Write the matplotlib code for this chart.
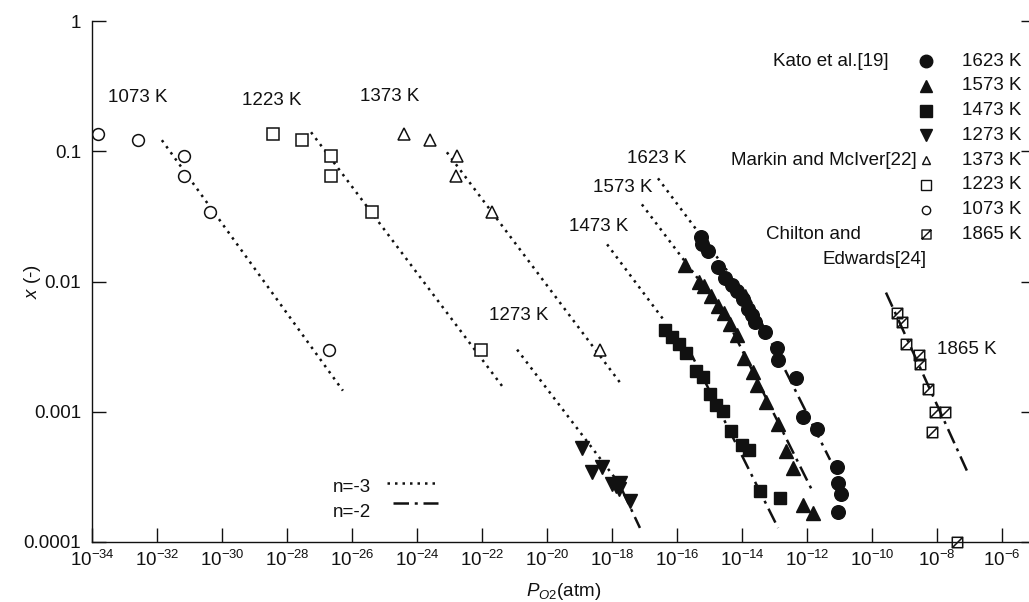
import numpy as np
import matplotlib
matplotlib.use("Agg")
import matplotlib.pyplot as plt
from matplotlib.path import Path

plt.rcParams['font.family'] = ['Liberation Sans', 'DejaVu Sans']
plt.rcParams['mathtext.fontset'] = 'custom'
plt.rcParams['mathtext.rm'] = 'Liberation Sans'
plt.rcParams['mathtext.it'] = 'Liberation Sans:italic'
plt.rcParams['axes.unicode_minus'] = False

# ---- data: log10(P_O2 / atm) and x ----
# Kato et al. [19]
kato_1623_logp = [-15.26, -15.23, -15.05, -14.74, -14.52, -14.31, -14.15, -13.97, -13.82,
                  -13.69, -13.60, -13.29, -12.92, -12.89, -12.34, -12.12, -11.69, -11.08,
                  -11.05, -10.95, -11.05]
kato_1623_x = [0.0218, 0.0193, 0.0170, 0.0130, 0.0107, 0.00948, 0.00838, 0.00728, 0.00619,
               0.00557, 0.00492, 0.00412, 0.00310, 0.00251, 0.00183, 0.000916, 0.00074,
               0.000378, 0.000284, 0.000234, 0.00017]

kato_1573_logp = [-15.75, -15.32, -15.17, -14.95, -14.74, -14.55, -14.37, -14.15, -13.94,
                  -13.66, -13.54, -13.26, -12.89, -12.65, -12.43, -12.12, -11.82]
kato_1573_x = [0.0135, 0.0100, 0.00916, 0.0078, 0.00653, 0.00578, 0.00475, 0.00385, 0.0026,
               0.00203, 0.00161, 0.00119, 0.00081, 0.0005, 0.00037, 0.000193, 0.000167]

kato_1473_logp = [-16.37, -16.15, -15.94, -15.72, -15.42, -15.20, -14.98, -14.80, -14.58,
                  -14.34, -14.00, -13.78, -13.45, -12.83]
kato_1473_x = [0.00428, 0.00378, 0.00333, 0.00284, 0.00206, 0.00186, 0.00137, 0.00113,
               0.00102, 0.000714, 0.000557, 0.00051, 0.000247, 0.000218]

kato_1273_logp = [-18.92, -18.62, -18.31, -18.00, -17.88, -17.75, -17.78, -17.45]
kato_1273_x = [0.000528, 0.000345, 0.000378, 0.000279, 0.00027, 0.000285, 0.000256, 0.000207]

# Markin and McIver [22]
markin_x = [0.135, 0.122, 0.092, 0.064, 0.034, 0.003]
markin_1373_logp = [-24.40, -23.60, -22.77, -22.80, -21.69, -18.37]
markin_1223_logp = [-28.43, -27.54, -26.65, -26.65, -25.38, -22.03]
markin_1073_logp = [-33.82, -32.58, -31.17, -31.17, -30.37, -26.71]

# Chilton and Edwards [24]
chilton_1865_logp = [-9.23, -9.08, -8.95, -8.55, -8.52, -8.28, -8.06, -7.75, -8.15, -7.38]
chilton_1865_x = [0.00578, 0.0049, 0.00333, 0.00274, 0.00234, 0.0015, 0.001, 0.001,
                  0.0007, 0.0001]

# fitted lines (logP start, log x start, logP end, log x end)
n3_lines = [(-31.85, -0.915, -26.28, -2.838),   # 1073 K
            (-27.26, -0.854, -21.32, -2.823),   # 1223 K
            (-23.08, -1.008, -17.75, -2.777),   # 1373 K
            (-20.92, -2.523, -17.91, -3.508),   # 1273 K
            (-18.15, -1.715, -16.37, -2.308),   # 1473 K
            (-17.08, -1.408, -15.29, -2.000),   # 1573 K
            (-16.585, -1.208, -14.37, -1.946)]  # 1623 K
n2_lines = [(-17.69, -3.600, -17.14, -3.892),   # 1273 K
            (-15.66, -2.508, -12.89, -3.892),   # 1473 K
            (-14.68, -2.185, -11.85, -3.600),   # 1573 K
            (-13.91, -2.062, -11.29, -3.369),   # 1623 K
            (-9.57, -2.085, -7.05, -3.469)]     # 1865 K

# temperature annotations near each data set
temp_labels = ['1073 K', '1223 K', '1373 K', '1623 K', '1573 K', '1473 K', '1273 K', '1865 K']
temp_label_logp = [-32.58, -28.46, -24.83, -16.62, -17.66, -18.40, -20.86, -7.08]
temp_label_x = [0.26, 0.247, 0.265, 0.0883, 0.0528, 0.0265, 0.00547, 0.003]

xtick_exp = list(range(-34, -5, 2))
ytick_vals = [1e-4, 1e-3, 1e-2, 1e-1, 1]
ytick_labels = ['0.0001', '0.001', '0.01', '0.1', '1']

# square with a diagonal, used for the 1865 K points
hatch_sq = Path([(-1, -1), (1, -1), (1, 1), (-1, 1), (-1, -1), (-1, -1), (1, 1)],
                [Path.MOVETO, Path.LINETO, Path.LINETO, Path.LINETO, Path.CLOSEPOLY,
                 Path.MOVETO, Path.LINETO])

INK = '#111111'
DOT = (0, (1.0, 2.0))
DASHDOT = (0, (6.2, 2.3, 1.2, 2.3))

fig = plt.figure(figsize=(10.29, 6.02), dpi=100)
ax = fig.add_axes([92 / 1029, 60 / 602, 942.5 / 1029, 521 / 602])
ax.set_xscale('log')
ax.set_yscale('log')

for p0, x0, p1, x1 in n3_lines:
    ax.plot([10.0 ** p0, 10.0 ** p1], [10.0 ** x0, 10.0 ** x1], color=INK, lw=1.8, linestyle=DOT)
for p0, x0, p1, x1 in n2_lines:
    ax.plot([10.0 ** p0, 10.0 ** p1], [10.0 ** x0, 10.0 ** x1], color=INK, lw=1.8, linestyle=DASHDOT)

def pts(logp):
    return 10.0 ** np.array(logp)

ax.plot(pts(kato_1623_logp), kato_1623_x, 'o', ms=9.8, color=INK, ls='none')
ax.plot(pts(kato_1573_logp), kato_1573_x, '^', ms=9.5, color=INK, ls='none')
ax.plot(pts(kato_1473_logp), kato_1473_x, 's', ms=9, color=INK, ls='none')
ax.plot(pts(kato_1273_logp), kato_1273_x, 'v', ms=9.5, color=INK, ls='none')
ax.plot(pts(markin_1373_logp), markin_x, '^', ms=8, mfc='white', mec=INK, mew=1.1, ls='none')
ax.plot(pts(markin_1223_logp), markin_x, 's', ms=8, mfc='white', mec=INK, mew=1.1, ls='none')
ax.plot(pts(markin_1073_logp), markin_x, 'o', ms=8.5, mfc='white', mec=INK, mew=1.1, ls='none')
ax.plot(pts(chilton_1865_logp), chilton_1865_x, marker=hatch_sq, ms=7.5, mfc='none', mec=INK,
        mew=1.1, ls='none', clip_on=False)

for lab, lp, xv in zip(temp_labels, temp_label_logp, temp_label_x):
    ax.text(10.0 ** lp, xv, lab, ha='center', va='center', fontsize=13.5, color=INK)

# legend on the right, drawn row by row in axes fraction
leg_rows = [('o', 9, True, '1623 K'), ('^', 9, True, '1573 K'), ('s', 8.5, True, '1473 K'),
            ('v', 9, True, '1273 K'), ('^', 6, False, '1373 K'), ('s', 6.5, False, '1223 K'),
            ('o', 6, False, '1073 K'), (hatch_sq, 6.5, False, '1865 K')]
row0, drow = 0.923, 0.0475
mx, tx = 0.885, 0.923
for i, (m, size, filled, lab) in enumerate(leg_rows):
    y = row0 - i * drow
    ax.plot([mx], [y], marker=m, ms=size, transform=ax.transAxes, clip_on=False, ls='none',
            mfc=INK if filled else 'none', mec=INK, mew=1.0)
    ax.text(tx, y, lab, transform=ax.transAxes, ha='left', va='center', fontsize=13.5, color=INK)
ax.text(0.845, row0, 'Kato et al.[19]', transform=ax.transAxes, ha='right', va='center',
        fontsize=13.5, color=INK)
ax.text(0.875, row0 - 4 * drow, 'Markin and McIver[22]', transform=ax.transAxes, ha='right',
        va='center', fontsize=13.5, color=INK)
ax.text(0.765, row0 - 7 * drow, 'Chilton and', transform=ax.transAxes, ha='center',
        va='center', fontsize=13.5, color=INK)
ax.text(0.830, row0 - 8 * drow, 'Edwards[24]', transform=ax.transAxes, ha='center',
        va='center', fontsize=13.5, color=INK)

# line-style key, lower left
ax.text(0.256, 0.104, 'n=-3', transform=ax.transAxes, ha='left', va='center', fontsize=13.5, color=INK)
ax.text(0.256, 0.056, 'n=-2', transform=ax.transAxes, ha='left', va='center', fontsize=13.5, color=INK)
ax.plot([0.313, 0.366], [0.113, 0.113], transform=ax.transAxes, color=INK, lw=1.8, linestyle=DOT)
ax.plot([0.319, 0.367], [0.075, 0.075], transform=ax.transAxes, color=INK, lw=1.8, linestyle=DASHDOT)

ax.set_xlim(1e-34, 1e-5)
ax.set_ylim(1e-4, 1)
ax.set_xticks([10.0 ** e for e in xtick_exp])
ax.set_xticklabels(['$\\mathdefault{10^{%d}}$' % e for e in xtick_exp])
ax.set_yticks(ytick_vals)
ax.set_yticklabels(ytick_labels)
ax.minorticks_off()
ax.tick_params(axis='both', which='major', direction='in', length=10, width=1.0,
               labelsize=13.5, colors=INK, right=True, top=False)
ax.tick_params(axis='x', pad=6)
ax.tick_params(axis='y', pad=8)
ax.spines['top'].set_visible(False)
for s in ('left', 'bottom', 'right'):
    ax.spines[s].set_linewidth(1.0)
    ax.spines[s].set_color(INK)

ax.set_xlabel('$P_{O2}$(atm)', fontsize=13.5, color=INK)
ax.xaxis.set_label_coords(0.5, -0.074)
ax.set_ylabel('$x$ (-)', fontsize=13.5, color=INK)
ax.yaxis.set_label_coords(-0.052, 0.5)

fig.savefig('out.png', dpi=100)
